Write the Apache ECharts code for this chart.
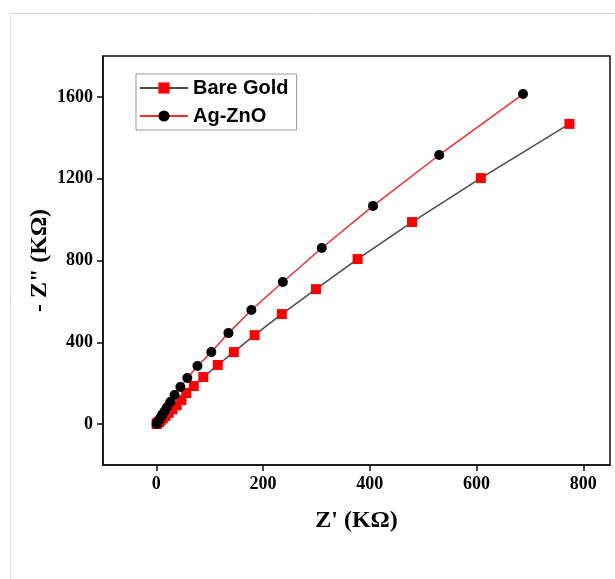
<!DOCTYPE html>
<html>
<head>
<meta charset="utf-8">
<script src="https://cdn.jsdelivr.net/npm/echarts@6/dist/echarts.min.js"></script>
<style>
html,body{margin:0;padding:0;background:#fff;}
#chart{width:615px;height:579px;}
</style>
</head>
<body>
<div id="chart"></div>
<script>
// Data
const seriesNames = ['Bare Gold', 'Ag-ZnO'];
const bareGoldX = [0.5, 1, 2, 5, 8, 12, 17, 23, 30, 38, 47, 56, 70, 88, 115, 145, 184, 235, 299, 377, 479, 608, 774];
const bareGoldY = [1, 2, 5, 10, 18, 28, 40, 55, 72, 92, 117, 152, 186, 230, 289, 352, 435, 538, 660, 807, 988, 1203, 1468];
const agZnoX = [0.5, 1, 2, 3, 5, 8, 11, 15, 20, 26, 34, 45, 58, 77, 103, 135, 178, 237, 310, 406, 530, 687];
const agZnoY = [1, 3, 6, 12, 20, 32, 45, 62, 82, 108, 142, 181, 225, 284, 352, 445, 558, 695, 861, 1067, 1316, 1614];
const xTicks = [0, 200, 400, 600, 800];
const yTicks = [0, 400, 800, 1200, 1600];
const xTitle = "Z' (KΩ)";
const yTitle = '- Z" (KΩ)';

const zip = (a, b) => a.map((v, i) => [v, b[i]]);
const serif = 'Liberation Serif, Times New Roman, serif';
const sans = 'Liberation Sans, Arial, sans-serif';
const plain = v => String(v);

const chart = echarts.init(document.getElementById('chart'), null, {renderer: 'canvas'});
chart.setOption({
  animation: false,
  backgroundColor: '#fff',
  graphic: [{
    type: 'rect', z: -10,
    shape: {x: 10.5, y: 13.5, width: 700, height: 700},
    style: {fill: 'none', stroke: '#d9d9d9', lineWidth: 1}
  }],
  grid: {
    left: 103, top: 56, right: 5, bottom: 114,
    show: true, borderColor: '#111', borderWidth: 1.5, backgroundColor: 'transparent'
  },
  legend: {
    orient: 'vertical',
    left: 136, top: 74,
    data: seriesNames,
    borderColor: '#999', borderWidth: 1,
    padding: [4, 8, 4, 3],
    itemWidth: 48, itemHeight: 14, itemGap: 8,
    textStyle: {fontFamily: sans, fontWeight: 'bold', fontSize: 20, color: '#000'}
  },
  xAxis: {
    type: 'value', min: -100, max: 850,
    name: xTitle, nameLocation: 'middle', nameGap: 44, nameMoveOverlap: false,
    nameTextStyle: {fontFamily: serif, fontWeight: 'bold', fontSize: 24, color: '#000'},
    splitLine: {show: false},
    axisLine: {show: true, onZero: false, lineStyle: {color: '#111', width: 1.5}},
    axisTick: {show: true, inside: false, length: 6, customValues: xTicks, lineStyle: {color: '#111', width: 1.5}},
    axisLabel: {customValues: xTicks, formatter: plain, margin: 10, fontFamily: serif, fontWeight: 'bold', fontSize: 18, color: '#000'}
  },
  yAxis: {
    type: 'value', min: -200, max: 1800,
    name: yTitle, nameLocation: 'middle', nameGap: 51, nameRotate: 90, nameMoveOverlap: false,
    nameTextStyle: {fontFamily: serif, fontWeight: 'bold', fontSize: 24, color: '#000'},
    splitLine: {show: false},
    axisLine: {show: true, onZero: false, lineStyle: {color: '#111', width: 1.5}},
    axisTick: {show: true, inside: false, length: 6, customValues: yTicks, lineStyle: {color: '#111', width: 1.5}},
    axisLabel: {customValues: yTicks, formatter: plain, margin: 10, fontFamily: serif, fontWeight: 'bold', fontSize: 18, color: '#000'}
  },
  series: [
    {
      name: seriesNames[0], type: 'line', data: zip(bareGoldX, bareGoldY),
      symbol: 'rect', symbolSize: 10, showSymbol: true,
      lineStyle: {color: '#4a4a4a', width: 1.5},
      itemStyle: {color: '#ff0000', borderWidth: 0},
      z: 2
    },
    {
      name: seriesNames[1], type: 'line', data: zip(agZnoX, agZnoY),
      symbol: 'circle', symbolSize: 10, showSymbol: true,
      lineStyle: {color: '#ff2a2a', width: 1.5},
      itemStyle: {color: '#000000', borderWidth: 0},
      z: 3
    }
  ]
});
</script>
</body>
</html>
